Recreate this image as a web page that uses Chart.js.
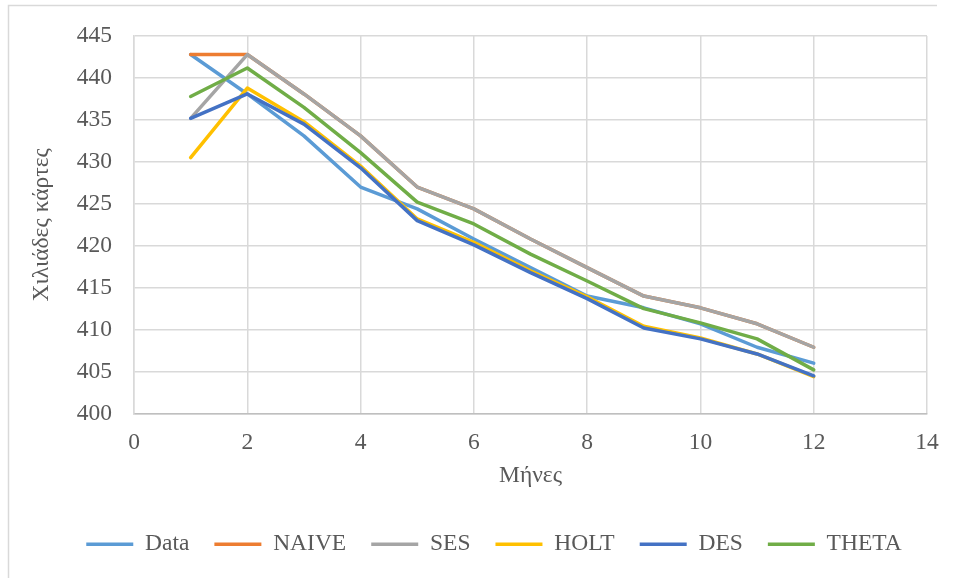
<!DOCTYPE html>
<html>
<head>
<meta charset="utf-8">
<script src="https://cdn.jsdelivr.net/npm/chart.js@4/dist/chart.umd.min.js"></script>
<style>
  html, body { margin: 0; padding: 0; background: #fff; }
  #wrap { width: 956px; height: 578px; }
</style>
</head>
<body>
<div id="wrap"><canvas id="forecasts"></canvas></div>
<script>
const months = [1, 2, 3, 4, 5, 6, 7, 8, 9, 10, 11, 12];
const seriesNames = ['Data', 'NAIVE', 'SES', 'HOLT', 'DES', 'THETA'];
const actual = [442.8, 438.1, 433.1, 427.0, 424.4, 420.8, 417.4, 414.0, 412.6, 410.7, 407.9, 406.0];
const naive  = [442.8, 442.8, 438.1, 433.1, 427.0, 424.4, 420.8, 417.4, 414.0, 412.6, 410.7, 407.9];
const ses    = [435.2, 442.8, 438.1, 433.1, 427.0, 424.4, 420.8, 417.4, 414.0, 412.6, 410.7, 407.9];
const holt   = [430.5, 438.8, 434.8, 429.5, 423.2, 420.4, 417.0, 413.9, 410.4, 409.0, 407.1, 404.4];
const des    = [435.2, 438.1, 434.5, 429.3, 423.0, 420.1, 416.8, 413.7, 410.2, 408.9, 407.1, 404.5];
const theta  = [437.8, 441.2, 436.5, 431.1, 425.2, 422.6, 419.0, 415.8, 412.5, 410.8, 408.9, 405.2];

const colors = ['#5B9BD5', '#ED7D31', '#A5A5A5', '#FFC000', '#4472C4', '#70AD47'];
const allSeries = [actual, naive, ses, holt, des, theta];

const font = { family: "'Liberation Serif', 'Times New Roman', serif", size: 23.5 };
const textColor = '#595959';
const gridColor = '#d9d9d9';

// outer chart frame like the Excel chart border
const frame = {
    id: 'frame',
    beforeDraw(chart) {
        const c = chart.ctx;
        c.save();
        c.strokeStyle = gridColor;
        c.lineWidth = 1.5;
        c.beginPath();
        c.moveTo(8.5, 578);
        c.lineTo(8.5, 5.5);
        c.lineTo(937, 5.5);
        c.stroke();
        c.restore();
    }
};

const datasets = allSeries.map((vals, i) => ({
    label: seriesNames[i],
    data: months.map((m, j) => ({ x: m, y: vals[j] })),
    borderColor: colors[i],
    backgroundColor: colors[i],
    borderWidth: 3.5,
    borderCapStyle: 'round',
    borderJoinStyle: 'round',
    pointRadius: 0,
    tension: 0,
    order: allSeries.length - i   // later series drawn on top, like Excel
}));

new Chart(document.getElementById('forecasts'), {
    type: 'line',
    data: { datasets },
    plugins: [frame],
    options: {
        animation: false,
        responsive: true,
        maintainAspectRatio: false,
        // left padding is wide so the legend centres like the original; y title pulled back with negative padding
        layout: { padding: { left: 61, right: 29, top: 35, bottom: 12 } },
        scales: {
            x: {
                type: 'linear',
                min: 0,
                max: 14,
                ticks: { stepSize: 2, color: textColor, font, padding: 15 },
                grid: { color: gridColor, lineWidth: 1.5, drawTicks: false },
                border: { color: '#bfbfbf', width: 1.5 },
                title: { display: true, text: 'Μήνες', color: textColor, font, padding: { top: 0, bottom: 18 } },
                afterFit: s => { s.height = 94; }
            },
            y: {
                min: 400,
                max: 445,
                ticks: { stepSize: 5, color: textColor, font, padding: 22 },
                grid: { color: gridColor, lineWidth: 1.5, drawTicks: false },
                border: { color: gridColor, width: 1.5 },
                title: { display: true, text: 'Χιλιάδες κάρτες', color: textColor, font, padding: { top: -33, bottom: 0 } },
                afterFit: s => { s.width = 73; }
            }
        },
        plugins: {
            legend: {
                position: 'bottom',
                labels: {
                    usePointStyle: true,
                    pointStyle: 'line',
                    pointStyleWidth: 47,
                    padding: 25,
                    color: textColor,
                    font,
                    sort: (a, b) => a.datasetIndex - b.datasetIndex
                }
            },
            tooltip: { enabled: false }
        }
    }
});
</script>
</body>
</html>
